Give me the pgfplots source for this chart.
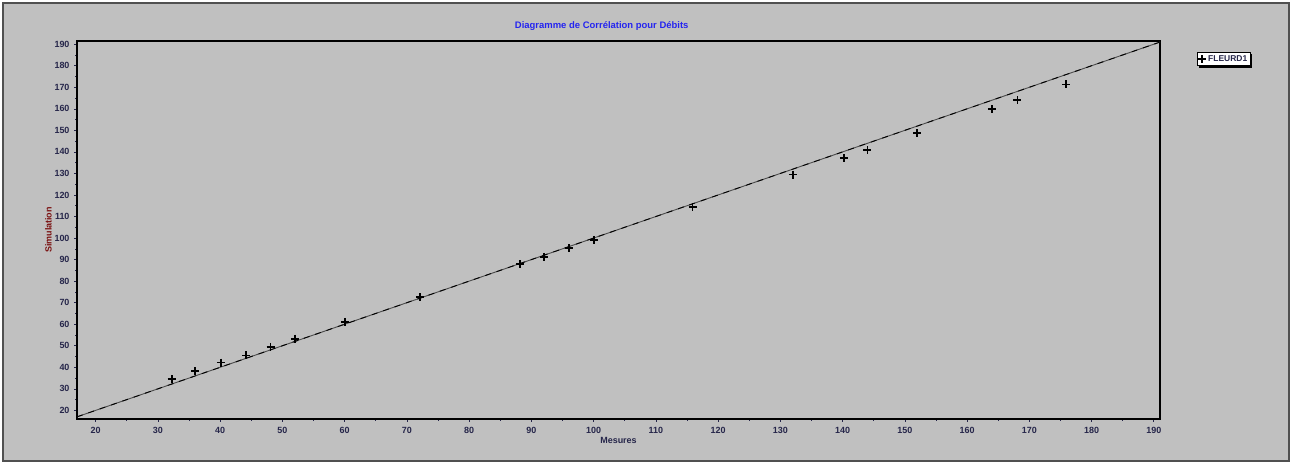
\documentclass[border=0pt]{standalone}
\usepackage{fontspec}
\setmainfont{Liberation Sans}
\usepackage{pgfplots}
\pgfplotsset{compat=1.18}
\usetikzlibrary{shadows}
\definecolor{bg}{HTML}{C0C0C0}
\definecolor{frame}{HTML}{505050}
\definecolor{titleblue}{HTML}{2424F0}
\definecolor{ylab}{HTML}{7A1010}
\definecolor{ticknavy}{HTML}{26264A}
\begin{document}
\begin{tikzpicture}[x=1bp,y=1bp]
\useasboundingbox (0,0) rectangle (1292,464);
\fill[white] (0,0) rectangle (1292,464);
\draw[frame, line width=1.2bp, fill=bg] (3,3) rectangle (1289,461);
\begin{axis}[
  at={(77bp,45bp)}, anchor=south west,
  width=1083bp, height=378bp, scale only axis=true,
  xmin=17, xmax=191, ymin=16, ymax=191.5,
  xtick={20,30,...,190}, ytick={20,30,...,190},
  minor x tick num=1, minor y tick num=1,
  tick align=outside, major tick length=3bp, minor tick length=2bp,
  xtick pos=bottom, ytick pos=left,
  axis line style={line width=1.6bp, black},
  every tick/.style={ticknavy, line width=0.6bp},
  /pgf/number format/assume math mode=true,
  ticklabel style={font=\fontsize{9}{10}\selectfont\bfseries, text=ticknavy},
  xticklabel style={yshift=-2bp},
  yticklabel style={xshift=-1bp},
  title={Diagramme de Corrélation pour Débits},
  title style={font=\fontsize{9.5}{11}\selectfont\bfseries, text=titleblue, at={(0.4845,1)}, yshift=1bp},
  xlabel={Mesures},
  xlabel style={font=\fontsize{9}{10}\selectfont\bfseries, text=ticknavy, yshift=3bp},
  ylabel={Simulation},
  ylabel style={font=\fontsize{9}{10}\selectfont\bfseries, text=ylab, yshift=-4bp},
  legend style={at={(1.034,0.971)}, anchor=north west, fill=white, draw=black,
    line width=0.8bp, drop shadow={shadow xshift=2bp, shadow yshift=-2bp, opacity=1, fill=black},
    font=\fontsize{8.5}{9}\selectfont\bfseries, text=ticknavy, inner sep=1bp,
    legend cell align=left},
]
\addplot[gray!60!black, line width=0.9bp, forget plot] coordinates {(17,17) (191,191)};
\addplot[black, line width=0.9bp, dash pattern=on 6bp off 6bp, forget plot] coordinates {(17,17) (191,191)};
\addplot[only marks, mark=+, mark size=4bp, line width=1.8bp, black] coordinates {
(32.2,34.4) (36.0,38.1) (40.1,42.2) (44.2,45.5) (48.1,49.5) (52.0,53.3)
(60.1,61.1) (72.1,72.5) (88.2,87.8) (92.0,91.3) (96.0,95.3) (100.0,99.2)
(115.9,114.3) (132.0,129.5) (140.2,137.0) (144.0,140.8) (152.0,148.6)
(164.0,159.9) (168.1,164.0) (175.9,171.3)
};
\addlegendentry{FLEURD1}
\end{axis}
\end{tikzpicture}
\end{document}
